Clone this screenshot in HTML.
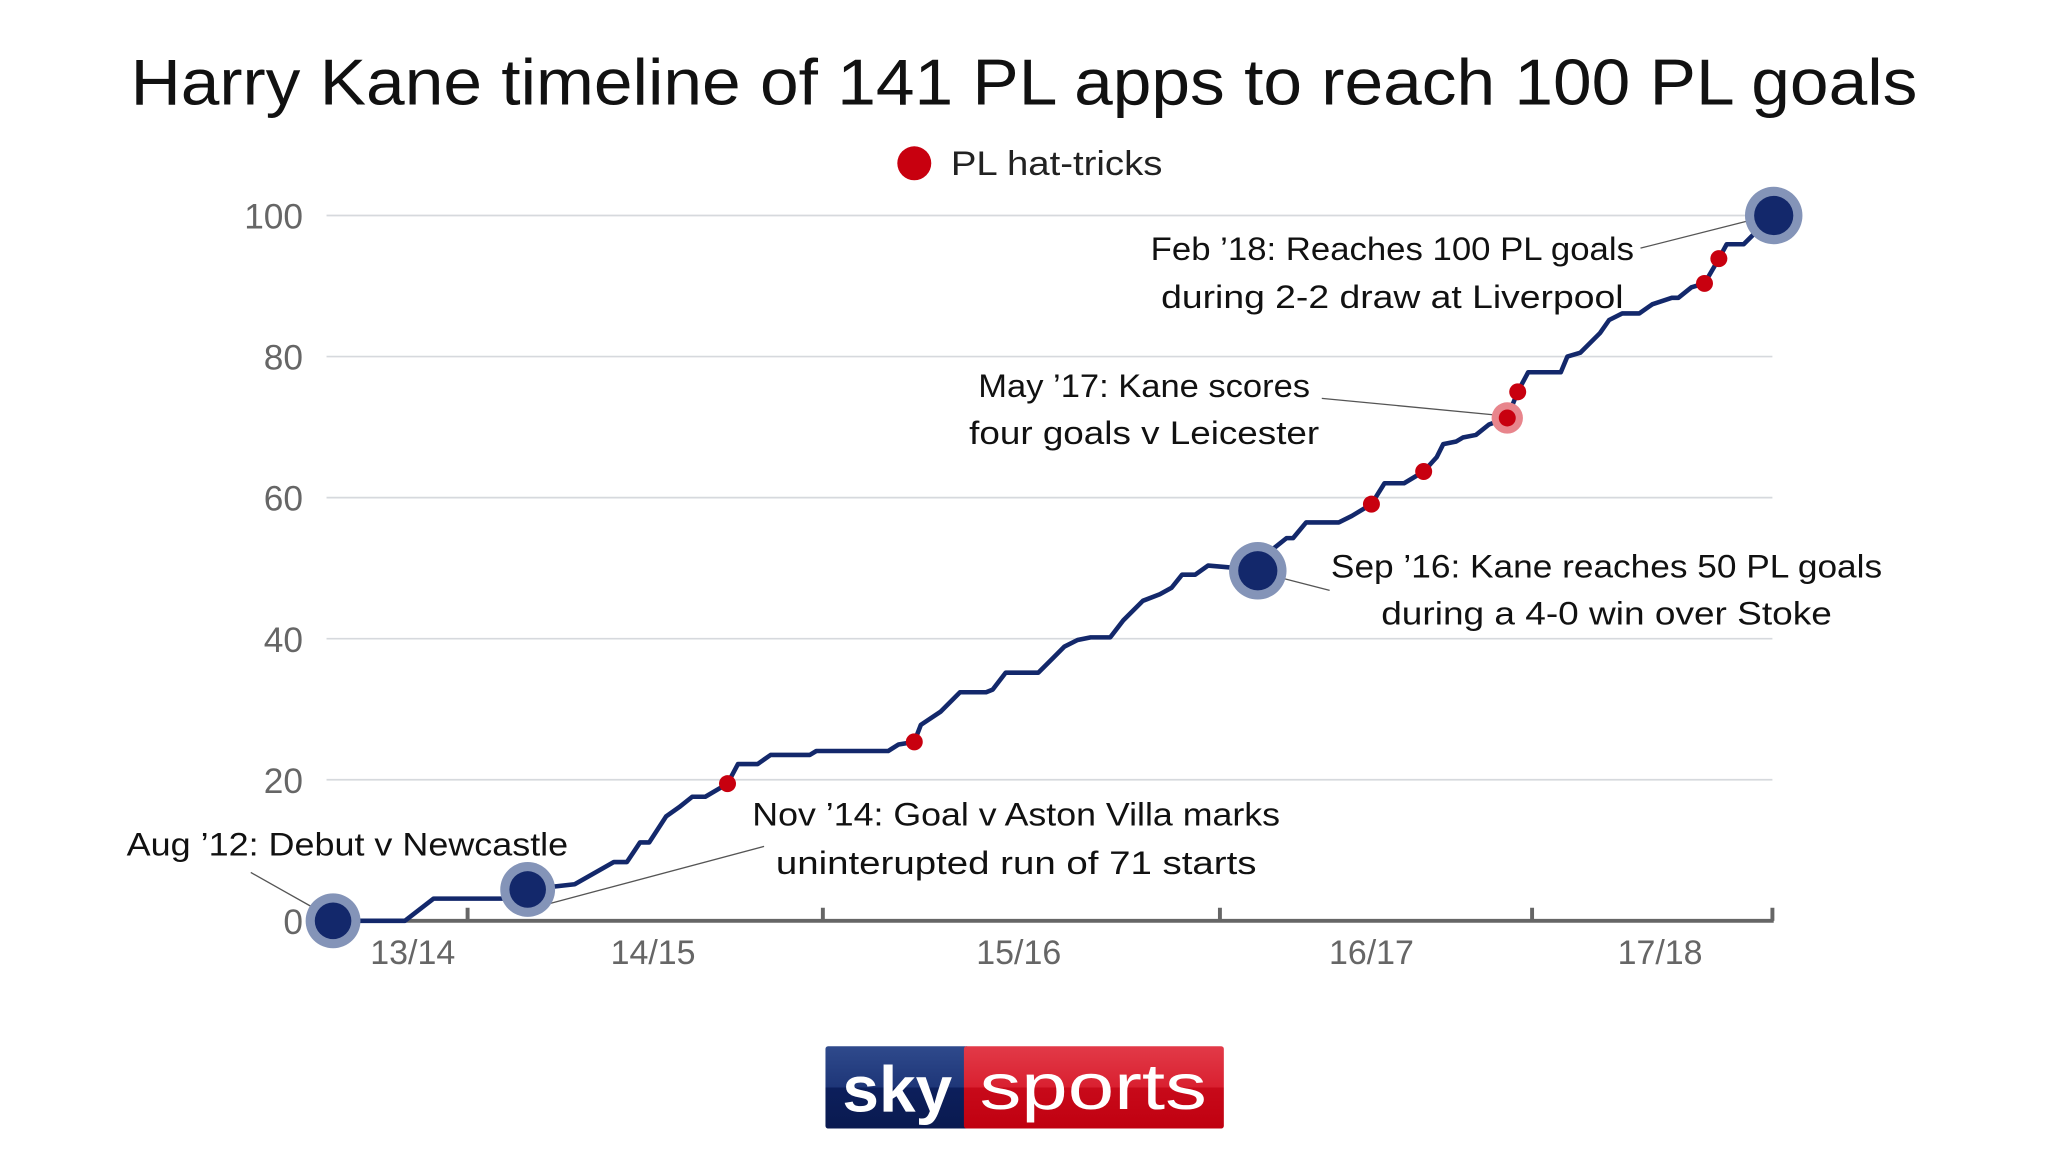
<!DOCTYPE html>
<html><head><style>html,body{margin:0;padding:0;background:#fff;}svg{display:block}</style></head>
<body>
<svg width="2048" height="1152" viewBox="0 0 1568 882" xmlns="http://www.w3.org/2000/svg" font-family="Liberation Sans, sans-serif">
<rect width="1568" height="882" fill="#fff"/>
<text x="784" y="80" text-anchor="middle" font-size="50" fill="#111" textLength="1368" lengthAdjust="spacingAndGlyphs">Harry Kane timeline of 141 PL apps to reach 100 PL goals</text>
<circle cx="700" cy="125" r="13" fill="#c8000f"/>
<text x="728" y="134" font-size="26" fill="#222" textLength="162" lengthAdjust="spacingAndGlyphs">PL hat-tricks</text>
<g stroke="#d6d9dd" stroke-width="1.3">
<line x1="250" y1="165" x2="1357" y2="165"/><line x1="250" y1="273" x2="1357" y2="273"/>
<line x1="250" y1="381" x2="1357" y2="381"/><line x1="250" y1="489" x2="1357" y2="489"/>
<line x1="250" y1="597" x2="1357" y2="597"/>
</g>
<g font-size="27" fill="#666" text-anchor="end">
<text x="232" y="175">100</text><text x="232" y="283">80</text><text x="232" y="391">60</text>
<text x="232" y="499">40</text><text x="232" y="607">20</text><text x="232" y="715">0</text>
</g>
<g stroke="#666" stroke-width="3">
<line x1="250" y1="705" x2="1358" y2="705"/>
<line x1="358" y1="695" x2="358" y2="705"/><line x1="630" y1="695" x2="630" y2="705"/>
<line x1="934" y1="695" x2="934" y2="705"/><line x1="1173" y1="695" x2="1173" y2="705"/>
<line x1="1357" y1="695" x2="1357" y2="705"/>
</g>
<g font-size="26" fill="#666" text-anchor="middle">
<text x="316" y="738">13/14</text><text x="500" y="738">14/15</text><text x="780" y="738">15/16</text>
<text x="1050" y="738">16/17</text><text x="1271" y="738">17/18</text>
</g>
<g stroke="#555" stroke-width="1" fill="none">
<line x1="192" y1="668" x2="240" y2="695"/>
<line x1="585" y1="648" x2="420" y2="692"/>
<line x1="1018" y1="452" x2="983" y2="443"/>
<line x1="1012" y1="305" x2="1148" y2="318"/>
<line x1="1256" y1="190" x2="1343" y2="168"/>
</g>
<polyline fill="none" stroke="#13286b" stroke-width="3.5" stroke-linejoin="round" points="255,705 310,705 332,688 400,688 404,681 440,677 470,660 480,660 490,645 497,645 510,625 520,618 530,610 540,610 557,600 565,585 580,585 590,578 620,578 625,575 680,575 688,570 700,568 705,555 720,545 735,530 755,530 760,528 770,515 795,515 805,505 815,495 825,490 835,488 850,488 860,475 875,460 888,455 897,450 905,440 915,440 925,433 960,436 963,437 975,420 985,412 990,412 1000,400 1025,400 1035,395 1050,386 1060,370 1075,370 1090,361 1100,350 1105,340 1115,338 1120,335 1130,333 1140,325 1154,320 1162,300 1170,285 1195,285 1200,273 1210,270 1225,255 1232,245 1242,240 1255,240 1265,233 1280,228 1285,228 1295,220 1305,217 1312,205 1316,198 1322,187 1335,187 1357,165"/>
<g fill="#8494b8"><circle cx="255" cy="705" r="21"/><circle cx="404" cy="681" r="21"/><circle cx="963" cy="437" r="22"/><circle cx="1358" cy="165" r="22"/></g>
<g fill="#13286b"><circle cx="255" cy="705" r="14"/><circle cx="404" cy="681" r="14"/><circle cx="963" cy="437" r="15"/><circle cx="1358" cy="165" r="15"/></g>
<circle cx="1154" cy="320" r="12" fill="#e8858c"/>
<g fill="#c8000f">
<circle cx="557" cy="600" r="6.5"/><circle cx="700" cy="568" r="6.5"/><circle cx="1050" cy="386" r="6.5"/>
<circle cx="1090" cy="361" r="6.5"/><circle cx="1154" cy="320" r="6.5"/><circle cx="1162" cy="300" r="6.5"/>
<circle cx="1305" cy="217" r="6.5"/><circle cx="1316" cy="198" r="6.5"/>
</g>
<g font-size="25" fill="#111" text-anchor="middle">
<text x="266" y="655" textLength="338" lengthAdjust="spacingAndGlyphs">Aug ’12: Debut v Newcastle</text>
<text x="778" y="632" textLength="404" lengthAdjust="spacingAndGlyphs">Nov ’14: Goal v Aston Villa marks</text>
<text x="778" y="669" textLength="368" lengthAdjust="spacingAndGlyphs">uninterupted run of 71 starts</text>
<text x="1230" y="442" textLength="422" lengthAdjust="spacingAndGlyphs">Sep ’16: Kane reaches 50 PL goals</text>
<text x="1230" y="478" textLength="345" lengthAdjust="spacingAndGlyphs">during a 4-0 win over Stoke</text>
<text x="876" y="304" textLength="254" lengthAdjust="spacingAndGlyphs">May ’17: Kane scores</text>
<text x="876" y="340" textLength="268" lengthAdjust="spacingAndGlyphs">four goals v Leicester</text>
<text x="1066" y="199" textLength="370" lengthAdjust="spacingAndGlyphs">Feb ’18: Reaches 100 PL goals</text>
<text x="1066" y="236" textLength="354" lengthAdjust="spacingAndGlyphs">during 2-2 draw at Liverpool</text>
</g>
<defs>
<linearGradient id="gb" x1="0" y1="0" x2="0" y2="1"><stop offset="0" stop-color="#2f4a8c"/><stop offset="0.5" stop-color="#1e3678"/><stop offset="0.5" stop-color="#0c1f5c"/><stop offset="1" stop-color="#0a1a50"/></linearGradient>
<linearGradient id="gr" x1="0" y1="0" x2="0" y2="1"><stop offset="0" stop-color="#e23a48"/><stop offset="0.5" stop-color="#d92030"/><stop offset="0.5" stop-color="#c80a1a"/><stop offset="1" stop-color="#c00010"/></linearGradient>
</defs>
<rect x="632" y="801" width="110" height="63" rx="2" fill="url(#gb)"/>
<rect x="738" y="801" width="199" height="63" rx="2" fill="url(#gr)"/>
<text x="645" y="851" font-size="50" font-weight="bold" fill="#fff" textLength="84" lengthAdjust="spacingAndGlyphs">sky</text>
<text x="750" y="849" font-size="50" fill="#fff" textLength="174" lengthAdjust="spacingAndGlyphs">sports</text>
</svg>
</body></html>
